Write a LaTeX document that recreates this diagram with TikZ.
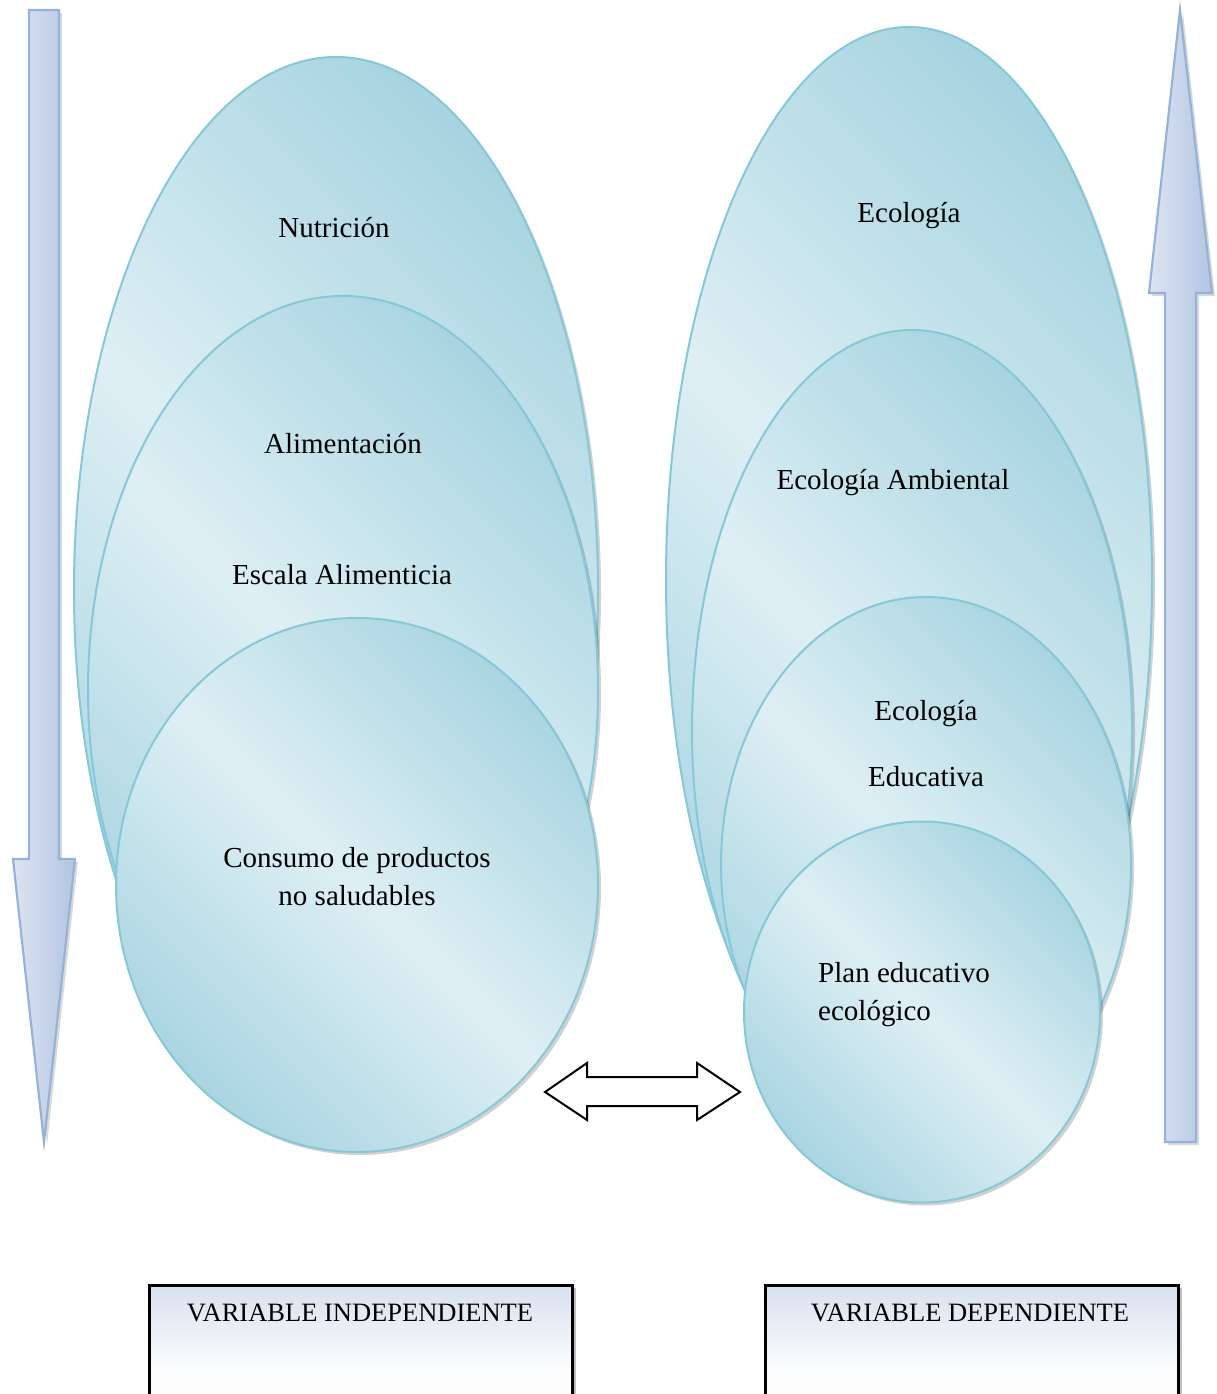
\documentclass[tikz,border=0pt]{standalone}
\usepackage{fontspec}
\setmainfont{Liberation Serif}
\usetikzlibrary{shapes.geometric,shadows}
\definecolor{elldark}{HTML}{A3D2DF}
\definecolor{elllight}{HTML}{DEEFF4}
\definecolor{ellline}{HTML}{86C8D7}
\definecolor{arrline}{HTML}{95B3D7}
\definecolor{arrlight}{HTML}{DCE4F1}
\definecolor{arrdark}{HTML}{B3C5E3}
\definecolor{boxtop}{HTML}{D8E1EE}
\pgfdeclareverticalshading{ellshade}{100bp}{color(0bp)=(elldark); color(22bp)=(elldark); color(50bp)=(elllight); color(78bp)=(elldark); color(100bp)=(elldark)}
\tikzset{
  ellbox/.style={ellipse, draw=ellline, line width=2pt, inner sep=0pt, shading=ellshade, shading angle=-45,
    drop shadow={shadow xshift=3pt, shadow yshift=-3pt, opacity=0.18, fill=black}},
  blockarrow/.style={draw=arrline, line width=2.2pt, line join=miter, left color=arrlight, right color=arrdark,
    drop shadow={shadow xshift=3pt, shadow yshift=-3pt, opacity=0.15, fill=black}},
  varbox/.style={rectangle, draw=black, line width=2.5pt, inner sep=0pt, anchor=north west,
    top color=boxtop, bottom color=white, middle color=white!92!boxtop,
    drop shadow={shadow xshift=4pt, shadow yshift=-3pt, opacity=0.25, fill=black}},
  elltext/.style={font=\fontsize{29}{38}\selectfont, anchor=base, inner sep=0pt},
  boxtext/.style={font=\fontsize{26.5}{32}\selectfont, anchor=base, inner sep=0pt},
  dblarrow/.style={draw=black, line width=2pt, fill=white, line join=miter}
}
\begin{document}
\begin{tikzpicture}[x=1pt, y=-1pt]
\useasboundingbox (0,0) rectangle (1217,1394);
\clip (0,0) rectangle (1217,1394);

% vertical arrows
\draw[blockarrow] (29,10) -- (59,10) -- (59,859) -- (75,859) -- (44,1142) -- (13,859) -- (29,859) -- cycle;
\draw[blockarrow] (1165,1142) -- (1165,293) -- (1149,293) -- (1180,10) -- (1212,293) -- (1196,293) -- (1196,1142) -- cycle;

% left group
\node[ellbox, minimum width=524, minimum height=1066] (nut) at (336,590) {};
\node[ellbox, minimum width=510, minimum height=788] (ali) at (343,690) {};
\node[ellbox, minimum width=482, minimum height=534] (con) at (357,885) {};

% right group
\node[ellbox, minimum width=486, minimum height=1106] (eco) at (909,580) {};
\node[ellbox, minimum width=440, minimum height=800] (amb) at (912,730) {};
\node[ellbox, minimum width=410, minimum height=536] (edu) at (926,865) {};
\node[ellbox, minimum width=356, minimum height=381] (plan) at (922,1012) {};

% texts
\node[elltext] (tnut) at (334,237) {Nutrición};
\node[elltext] (tali) at (343,453) {Alimentación};
\node[elltext] (tesc) at (342,584) {Escala Alimenticia};
\node[elltext] (tcon1) at (357,867) {Consumo de productos};
\node[elltext] (tcon2) at (357,905) {no saludables};

\node[elltext] (teco) at (909,222) {Ecología};
\node[elltext] (tamb) at (893,489) {Ecología Ambiental};
\node[elltext] (tedu1) at (926,720) {Ecología};
\node[elltext] (tedu2) at (926,786) {Educativa};
\node[elltext, anchor=base west] (tplan1) at (818,982) {Plan educativo};
\node[elltext, anchor=base west] (tplan2) at (818,1020) {ecológico};

% double arrow
\draw[dblarrow] (545,1092) -- (587,1063) -- (587,1077) -- (697,1077) -- (697,1063) -- (740,1092)
  -- (697,1120) -- (697,1106) -- (587,1106) -- (587,1120) -- cycle;

% boxes
\node[varbox, minimum width=423, minimum height=170] (vi) at (148,1284) {};
\node[varbox, minimum width=413, minimum height=170] (vd) at (764,1284) {};
\node[boxtext] (tvi) at (360,1321) {VARIABLE INDEPENDIENTE};
\node[boxtext] (tvd) at (970,1321) {VARIABLE DEPENDIENTE};
\end{tikzpicture}
\end{document}
